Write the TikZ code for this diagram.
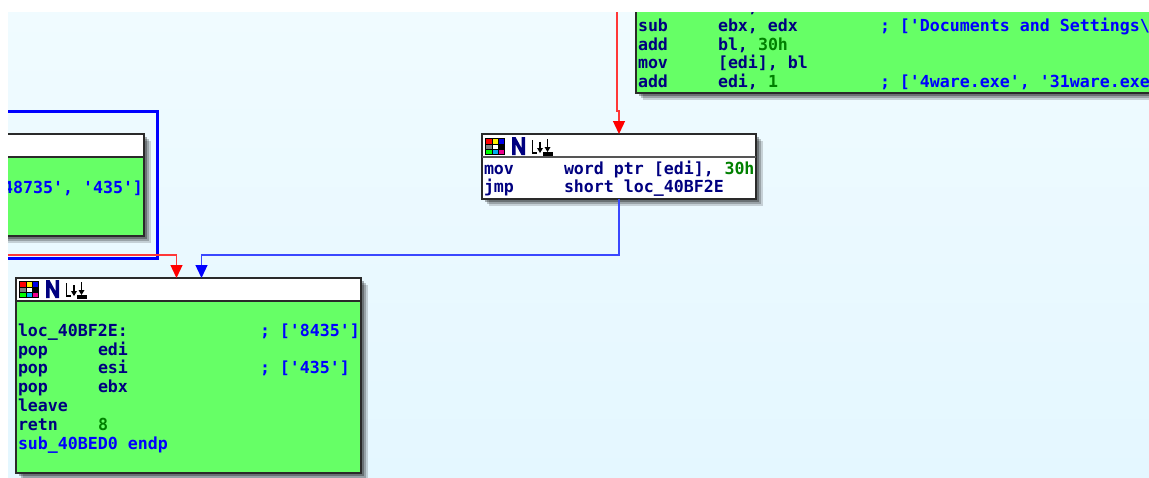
\documentclass[tikz,border=0pt]{standalone}
\usepackage{fontspec}
\newfontfamily\idafont{DejaVu Sans Mono}
\usetikzlibrary{arrows.meta,calc}
\definecolor{bggreen}{HTML}{66FF66}
\definecolor{navy}{HTML}{000080}
\definecolor{cmtblue}{HTML}{0000FF}
\definecolor{numgreen}{HTML}{008000}
\definecolor{edge}{HTML}{2A2A2A}
\definecolor{redline}{HTML}{FF3838}
\definecolor{blueline}{HTML}{3A48FF}
\definecolor{bgtop}{HTML}{F0FBFF}
\definecolor{bgbot}{HTML}{E4F7FF}
\tikzset{
  x=1pt,y=-1pt,
  codetext/.style={anchor=base west,inner sep=0pt,outer sep=0pt,font=\idafont\bfseries\fontsize{16.6}{18}\selectfont},
  ins/.style={codetext,text=navy},
  cmt/.style={codetext,text=cmtblue},
  num/.style={codetext,text=numgreen},
  blockbody/.style={anchor=north west,inner sep=0pt,outer sep=0pt,draw=edge,line width=1.6pt,fill=bggreen},
  whitebody/.style={blockbody,fill=white},
  headbar/.style={anchor=north west,inner sep=0pt,outer sep=0pt,draw=edge,line width=1.6pt,fill=white},
  redflow/.style={draw=redline,line width=1.3pt,-{Triangle[length=13pt,width=12pt,color=red]}},
  blueflow/.style={draw=blueline,line width=1.3pt,-{Triangle[length=13pt,width=12pt,color=blue]}},
  groupframe/.style={draw=cmtblue,line width=3pt,line join=miter},
  blockicons/.pic={
    \fill[black] (0,0) rectangle (20,17);
    \fill[red] (1,1) rectangle (6.5,5.5);
    \fill[yellow] (7.5,1) rectangle (12.5,5.5);
    \fill[blue!90!black] (13.5,1) rectangle (19,5.5);
    \fill[gray] (1,6.5) rectangle (6.5,10.5);
    \fill[white] (7.5,6.5) rectangle (12.5,10.5);
    \fill[green] (1,11.5) rectangle (6.5,16);
    \fill[cyan] (7.5,11.5) rectangle (12.5,16);
    \fill[magenta] (13.5,11.5) rectangle (19,16);
    \fill[navy] (27,-1) -- (30.5,-1) -- (36.5,10) -- (36.5,-1) -- (40,-1) -- (40,17) -- (36.5,17) -- (30.5,6) -- (30.5,17) -- (27,17) -- cycle;
    \draw[black,line width=1.3pt] (47.5,2) -- (47.5,15) -- (52,15);
    \draw[black,line width=1.3pt] (55,4) -- (55,12);
    \fill[black] (52,10) -- (58,10) -- (55,15) -- cycle;
    \draw[black,line width=1.3pt] (62.5,1) -- (62.5,12);
    \fill[black] (59.5,9) -- (65.5,9) -- (62.5,14) -- cycle;
    \draw[black,line width=1.2pt] (58,15) -- (68,15);
    \draw[black,line width=1.2pt] (58,17) -- (68,17);
  }
}
\newcommand{\softshadow}[4]{%
  \fill[black,opacity=.16] (#1+7,#2+7) rectangle (#3+7,#4+7);
  \fill[black,opacity=.22] (#1+5,#2+5) rectangle (#3+5,#4+5);
  \fill[black,opacity=.30] (#1+3,#2+3) rectangle (#3+3,#4+3);
}
\begin{document}
\begin{tikzpicture}
\useasboundingbox (0,0) rectangle (1149,477);
\fill[white] (0,0) rectangle (1149,477);
\begin{scope}
\clip (8,12) rectangle (1149,477);
\shade[top color=bgtop,bottom color=bgbot] (8,12) rectangle (1149,477);

% upper-left block
\softshadow{-20}{134}{144}{236}
\node[blockbody,minimum width=170pt,minimum height=102pt] (leftblock) at (-26,134) {};
\node[headbar,minimum width=170pt,minimum height=23pt] (lefthead) at (-26,134) {};
\node[cmt,anchor=base east] (leftcmt) at (143,193) {48735', '435']};
% frame of the collapsed group
\draw[groupframe] (-10,111) -- (157,111) -- (157,258) -- (-10,258);

% top-right block
\softshadow{636}{-20}{1170}{93}
\node[blockbody,minimum width=560pt,minimum height=113pt] (topblock) at (636,-20) {};
\node[ins] (tz) at (748,12) {,};
\node[ins] (ta) at (638,31) {sub};
\node[ins] (tb) at (718,31) {ebx, edx};
\node[cmt] (tc) at (880,31) {; ['Documents and Settings\textbackslash};
\node[ins] (td) at (638,50) {add};
\node[ins] (te) at (718,50) {bl,};
\node[num] (tf) at (758,50) {30h};
\node[ins] (tg) at (638,68) {mov};
\node[ins] (th) at (718,68) {[edi], bl};
\node[ins] (ti) at (638,87) {add};
\node[ins] (tj) at (718,87) {edi,};
\node[num] (tk) at (768,87) {1};
\node[cmt] (tl) at (880,87) {; ['4ware.exe', '31ware.exe};

% middle block
\softshadow{482}{134}{756}{199}
\node[whitebody,minimum width=274pt,minimum height=65pt] (midblock) at (482,134) {};
\draw[edge!80,line width=1.5pt] (482,157) -- (756,157);
\pic at (485,138) {blockicons};
\node[ins] (ma) at (484,174) {mov};
\node[ins] (mb) at (564,174) {word ptr [edi],};
\node[num] (mc) at (724.5,174) {30h};
\node[ins] (md) at (484,192) {jmp};
\node[ins] (me) at (564,192) {short loc\_40BF2E};

% bottom block
\softshadow{16}{278}{361}{473}
\node[blockbody,minimum width=345pt,minimum height=195pt] (lowblock) at (16,278) {};
\node[headbar,minimum width=345pt,minimum height=23pt] (lowhead) at (16,278) {};
\pic at (19,281) {blockicons};
\node[ins] (la) at (18,336) {loc\_40BF2E:};
\node[cmt] (lb) at (260,336) {; ['8435']};
\node[ins] (lc) at (18,355) {pop};
\node[ins] (ld) at (98,355) {edi};
\node[ins] (le) at (18,373) {pop};
\node[ins] (lf) at (98,373) {esi};
\node[cmt] (lg) at (260,373) {; ['435']};
\node[ins] (lh) at (18,392) {pop};
\node[ins] (li) at (98,392) {ebx};
\node[ins] (lj) at (18,411) {leave};
\node[ins] (lk) at (18,430) {retn};
\node[num] (ll) at (98,430) {8};
\node[cmt] (lm) at (18,449) {sub\_40BED0 endp};

% connectors
\coordinate (redtop) at (617,12);
\coordinate (redjogA) at (617,111);
\coordinate (redleft) at (-10,255);
\coordinate (lowinA) at ($(lowblock.north west)+(160.5,0)$);
\coordinate (lowinB) at ($(lowblock.north west)+(185.5,0)$);
\coordinate (redjogB) at (midblock.north|-redjogA);
\coordinate (redknee) at (lowinA|-redleft);
\coordinate (blueknee) at (midblock.south|-redleft);
\coordinate (blueknee2) at (lowinB|-redleft);
\draw[redflow] (redtop) -- (redjogA) -- (redjogB) -- (midblock.north);
\draw[redflow] (redleft) -- (redknee) -- (lowinA);
\draw[blueflow] (midblock.south) -- (blueknee) -- (blueknee2) -- (lowinB);
\end{scope}
\end{tikzpicture}
\end{document}
